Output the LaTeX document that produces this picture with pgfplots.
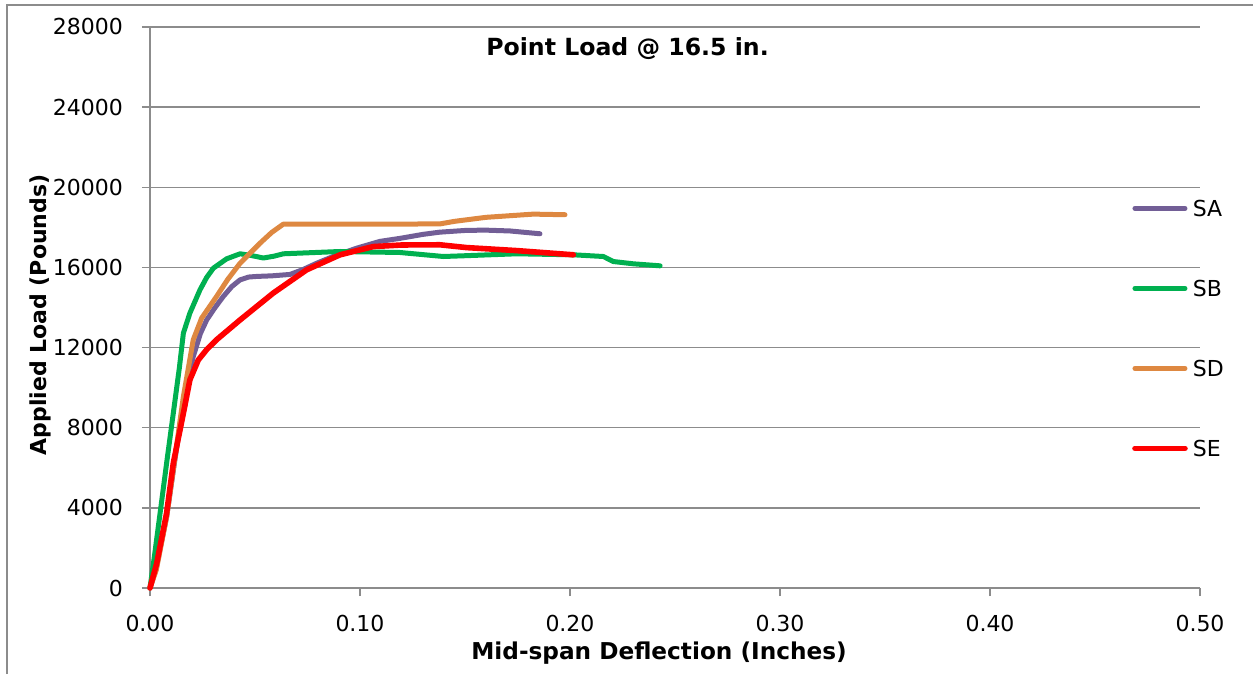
\documentclass[border=0pt]{standalone}
\usepackage{fontspec}
\setmainfont{DejaVu Sans}
\usepackage{pgfplots}
\usepackage{pgfplotstable}
\pgfplotsset{compat=1.18}

\definecolor{gridgray}{RGB}{140,140,140}
\definecolor{saPurple}{RGB}{114,94,150}
\definecolor{sbGreen}{RGB}{0,176,80}
\definecolor{sdOrange}{RGB}{222,136,65}
\definecolor{seRed}{RGB}{255,0,0}

% mid-span deflection (in) vs applied load (lb)
\pgfplotstableread{
x y
0 0
0.003 1000
0.008 3600
0.012 6500
0.0159 9200
0.019 10800
0.0206 11550
0.024 12700
0.027 13380
0.031 14000
0.0349 14550
0.039 15050
0.0429 15380
0.047 15520
0.0508 15550
0.058 15580
0.0667 15650
0.073 15900
0.0794 16210
0.088 16580
0.0984 16960
0.1095 17300
0.119 17450
0.13 17650
0.138 17760
0.1508 17850
0.16 17860
0.1714 17820
0.1857 17680
}\dataSA

\pgfplotstableread{
x y
0 0
0.002 1500
0.0048 3730
0.008 6300
0.0111 8724
0.014 11000
0.0159 12720
0.019 13720
0.0238 14880
0.027 15500
0.0302 15965
0.0365 16430
0.0429 16680
0.048 16600
0.054 16470
0.059 16560
0.0635 16680
0.0905 16795
0.119 16745
0.1397 16545
0.149 16580
0.1746 16680
0.2016 16630
0.2159 16545
0.2206 16295
0.2302 16180
0.2429 16080
}\dataSB

\pgfplotstableread{
x y
0 0
0.003 900
0.008 3600
0.012 6600
0.0159 9550
0.0206 12390
0.0246 13470
0.0317 14550
0.037 15400
0.0429 16210
0.0524 17210
0.058 17750
0.0635 18160
0.1 18160
0.138 18170
0.145 18300
0.157 18460
0.16 18500
0.1825 18660
0.1976 18630
}\dataSD

\pgfplotstableread{
x y
0 0
0.0032 1230
0.0079 3730
0.0111 6230
0.0159 8720
0.019 10390
0.023 11380
0.027 11900
0.0317 12390
0.0429 13380
0.0587 14720
0.0746 15880
0.0905 16630
0.1063 17040
0.12 17120
0.138 17130
0.1508 16990
0.1746 16840
0.2016 16630
}\dataSE

\begin{document}
\begin{tikzpicture}
\begin{axis}[
    scale only axis,
    width=525pt, height=280.5pt,
    xmin=0, xmax=0.5,
    ymin=0, ymax=28000,
    xtick={0,0.1,0.2,0.3,0.4,0.5},
    ytick={0,4000,8000,12000,16000,20000,24000,28000},
    axis x line=bottom, axis y line=left,
    axis line style={draw=gridgray, line width=0.75pt, -},
    ymajorgrids,
    major grid style={draw=gridgray, line width=0.75pt},
    tick align=outside,
    major tick length=4pt,
    tick style={draw=gridgray, line width=0.75pt},
    scaled x ticks=false, scaled y ticks=false,
    /pgf/number format/assume math mode=true,
    /pgf/number format/1000 sep={},
    x tick label style={/pgf/number format/fixed, /pgf/number format/fixed zerofill,
        /pgf/number format/precision=2, yshift=-6pt},
    y tick label style={xshift=-6pt},
    ticklabel style={font=\fontsize{11}{13}\selectfont, text=black},
    xlabel={Mid-span Deflection (Inches)},
    ylabel={Applied Load (Pounds)},
    xlabel style={font=\bfseries\fontsize{11.6}{14}\selectfont,
        at={(axis description cs:0.4848,-0.1159)}, anchor=center},
    ylabel style={font=\bfseries\fontsize{11}{13}\selectfont,
        at={(axis description cs:-0.1048,0.4866)}, anchor=center, rotate=0},
    clip=false,
    legend cell align=left,
    legend image code/.code={\draw[#1, line cap=round] (0pt,0pt) -- (25pt,0pt);},
    legend style={draw=none, fill=none, font=\fontsize{11}{13}\selectfont,
        at={(rel axis cs:0.9293,0.6987)}, anchor=north west,
        row sep=32pt, column sep=2.5pt,
        nodes={inner sep=0pt, text height=8pt, text depth=0pt}},
]
\addplot[color=saPurple, line width=2.5pt, line cap=round, line join=round] table[x=x, y=y] {\dataSA};
\addlegendentry{SA}
\addplot[color=sbGreen, line width=2.5pt, line cap=round, line join=round] table[x=x, y=y] {\dataSB};
\addlegendentry{SB}
\addplot[color=sdOrange, line width=2.5pt, line cap=round, line join=round] table[x=x, y=y] {\dataSD};
\addlegendentry{SD}
\addplot[color=seRed, line width=2.8pt, line cap=round, line join=round] table[x=x, y=y] {\dataSE};
\addlegendentry{SE}

\node[font=\bfseries\fontsize{11.8}{14}\selectfont] at (rel axis cs:0.4548,0.961) {Point Load @ 16.5 in.};

\coordinate (bl) at (rel axis cs:-0.14286,-0.1533);
\coordinate (tr) at (rel axis cs:1.05048,1.04813);
\coordinate (fl) at (rel axis cs:-0.1362,1.0392);
\end{axis}
\pgfresetboundingbox
\useasboundingbox (bl) rectangle (tr);
\draw[gridgray, line width=0.75pt] (fl |- bl) -- (fl) -- (fl -| tr);
\end{tikzpicture}
\end{document}
